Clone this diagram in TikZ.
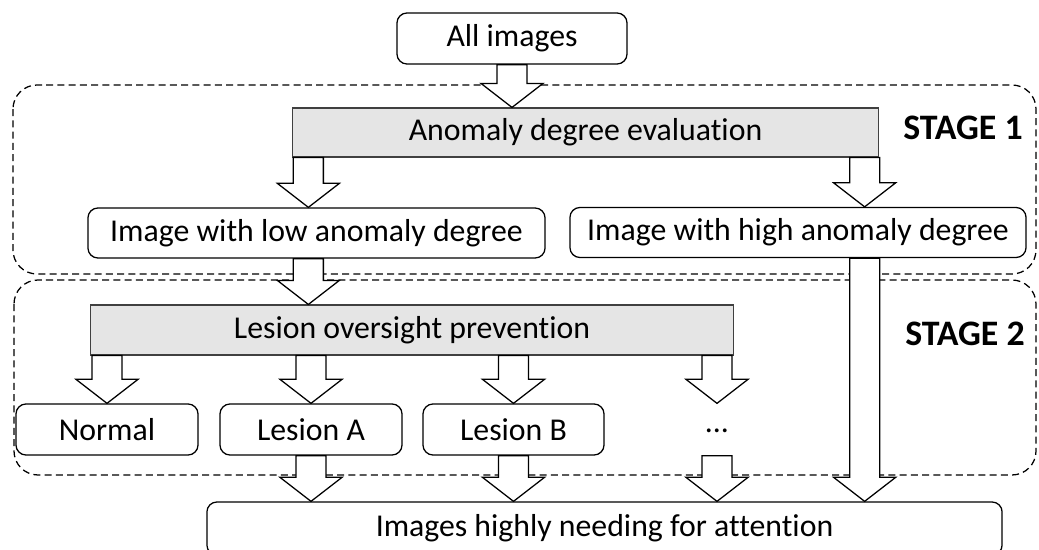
\documentclass[tikz,border=0pt]{standalone}
\usepackage{fontspec}
\setmainfont[Ligatures=CommonOff]{Carlito}
\usetikzlibrary{calc}

% block arrow: shaft from #1, tip at the height of #2
\newcommand{\blockarrow}[2]{%
  \draw[barrow] let \p1=#1, \p2=#2 in
    (\x1-0.375cm,\y1) -- (\x1+0.375cm,\y1) -- (\x1+0.375cm,\y2+0.6cm)
    -- (\x1+0.775cm,\y2+0.6cm) -- (\x1,\y2) -- (\x1-0.775cm,\y2+0.6cm)
    -- (\x1-0.375cm,\y2+0.6cm) -- cycle;}

\begin{document}
\begin{tikzpicture}[x=0.025cm,y=-0.025cm,
  box/.style={draw, line width=0.9pt, rounded corners=0.25cm, inner sep=0pt,
    minimum height=1.25cm, font=\fontsize{22.6}{27}\selectfont},
  graybox/.style={draw=black!75, line width=0.8pt, fill=black!10, inner sep=0pt,
    minimum height=1.225cm, font=\fontsize{22.6}{27}\selectfont},
  stagebox/.style={draw, line width=0.9pt, dash pattern=on 5pt off 3pt,
    rounded corners=0.6cm},
  stagelabel/.style={font=\fontsize{25.5}{30}\selectfont\bfseries},
  barrow/.style={draw, fill=white, line width=0.9pt, line join=miter}]
\clip (0,0) rectangle (1039,550);

%stage frames
\draw[stagebox] (13,85) rectangle (1036,274);
\draw[stagebox] (14,280) rectangle (1036,475);
\node[stagelabel] (st1) at (963,128) {STAGE 1};
\node[stagelabel] (st2) at (965,334) {STAGE 2};

%boxes
\node[box, minimum width=5.75cm, minimum height=1.275cm] (all) at (512,38.5) {All images};
\node[graybox, minimum width=14.625cm] (eval) at (585.5,132.5) {Anomaly degree evaluation};
\node[box, minimum width=11.425cm] (low) at (316.5,233) {Image with low anomaly degree};
\node[box, minimum width=11.4cm] (high) at (798,232.5) {Image with high anomaly degree};
\node[graybox, minimum width=16.05cm, minimum height=1.25cm] (lesion) at (412,330) {Lesion oversight prevention};
\node[box, minimum width=4.55cm, minimum height=1.275cm] (normal) at (107,429.5) {Normal};
\node[box, minimum width=4.55cm, minimum height=1.275cm] (lesa) at (311,429.5) {Lesion A};
\node[box, minimum width=4.525cm, minimum height=1.275cm] (lesb) at (513.5,429.5) {Lesion B};
\node[font=\fontsize{22.6}{27}\selectfont] (dots) at (717,431) {...};
\node[box, minimum width=19.875cm, minimum height=1.325cm] (final) at (604.5,528.5) {Images highly needing for attention};

\coordinate (lcol) at ([xshift=0.4cm]eval.south west);
\coordinate (rcol) at ([xshift=-0.35cm]eval.south east);

%arrows
\blockarrow{(all.south)}{(eval.north)}
\blockarrow{(lcol)}{(low.north)}
\blockarrow{(rcol)}{(high.north)}
\blockarrow{(lcol |- low.south)}{(lesion.north)}
\blockarrow{(rcol |- high.south)}{(final.north)}
\foreach \b in {normal,lesa,lesb,dots}{
  \blockarrow{(\b |- lesion.south)}{(normal.north)}
}
\foreach \b in {lesa,lesb,dots}{
  \blockarrow{(\b |- normal.south)}{(final.north)}
}
\end{tikzpicture}
\end{document}
